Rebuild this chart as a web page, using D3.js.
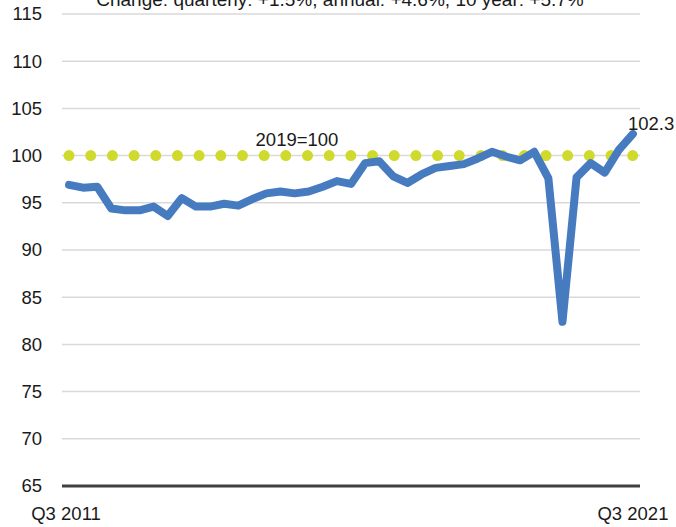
<!DOCTYPE html>
<html>
<head>
<meta charset="utf-8">
<script src="https://cdn.jsdelivr.net/npm/d3@7"></script>
<style>
  body { margin: 0; background: #fff; }
  text { font-family: "Liberation Sans", Arial, sans-serif; fill: #1a1a1a; }
</style>
</head>
<body>
<div id="chart"></div>
<script>
// Quarterly index, Q3 2011 .. Q3 2021 (2019=100)
const quarters = d3.range(41).map(i => {
  const q = (2 + i) % 4 + 1, yr = 2011 + Math.floor((2 + i) / 4);
  return `Q${q} ${yr}`;
});
const values = [
  96.9, 96.6, 96.7, 94.4, 94.2, 94.2, 94.6, 93.6, 95.5, 94.6,
  94.6, 94.9, 94.7, 95.4, 96.0, 96.2, 96.0, 96.2, 96.7, 97.3,
  97.0, 99.2, 99.4, 97.8, 97.1, 98.0, 98.7, 98.9, 99.1, 99.7,
  100.4, 99.9, 99.5, 100.4, 97.6, 82.4, 97.7, 99.2, 98.2, 100.6,
  102.3
];
const baseValue = 100;
const yTicks = [65, 70, 75, 80, 85, 90, 95, 100, 105, 110, 115];
const xLabels = ["Q3 2011", "Q3 2021"];
const subtitle = "Change: quarterly: +1.5%, annual: +4.6%, 10 year: +5.7%";

const W = 676, H = 527;
const FS = "18.5px";
const svg = d3.select("#chart").append("svg")
  .attr("width", W).attr("height", H);

const x = d3.scalePoint()
  .domain(quarters)
  .range([62, 640])
  .padding(0.5);

const y = d3.scaleLinear()
  .domain([65, 115])
  .range([486, 14]);

// gridlines
svg.append("g")
  .selectAll("line")
  .data(yTicks.filter(d => d > 65))
  .join("line")
    .attr("x1", 62).attr("x2", 640)
    .attr("y1", d => y(d)).attr("y2", d => y(d))
    .attr("stroke", "#d9d9d9")
    .attr("stroke-width", 1.5);

// y labels
const yAxis = svg.append("g")
  .attr("transform", "translate(42,0)")
  .call(d3.axisLeft(y).tickValues(yTicks).tickSize(0).tickPadding(0));
yAxis.select(".domain").remove();
yAxis.selectAll("text")
  .style("font-size", FS)
  .style("font-family", "Liberation Sans, Arial, sans-serif")
  .attr("fill", "#1a1a1a");

// bottom axis line
svg.append("line")
  .attr("x1", 62).attr("x2", 640)
  .attr("y1", y(65)).attr("y2", y(65))
  .attr("stroke", "#404040")
  .attr("stroke-width", 3);

// x labels
svg.append("g")
  .selectAll("text")
  .data(xLabels)
  .join("text")
    .attr("x", d => x(d) - (d === xLabels[0] ? 3 : 0))
    .attr("y", 520)
    .attr("text-anchor", "middle")
    .style("font-size", FS)
    .text(d => d);

// 2019=100 reference (round dots)
const refLine = d3.line()
  .x(d => x(d))
  .y(() => y(baseValue));
svg.append("path")
  .datum(quarters)
  .attr("d", refLine)
  .attr("fill", "none")
  .attr("stroke", "#d0da2c")
  .attr("stroke-width", 11)
  .attr("stroke-linecap", "round")
  .attr("stroke-dasharray", `0 ${(x(quarters[40]) - x(quarters[0])) / 26 - 0.01}`);

svg.append("text")
  .attr("x", 297).attr("y", 146)
  .attr("text-anchor", "middle")
  .style("font-size", FS)
  .text("2019=100");

// main series
const line = d3.line()
  .x((d, i) => x(quarters[i]))
  .y(d => y(d));
svg.append("path")
  .datum(values)
  .attr("d", line)
  .attr("fill", "none")
  .attr("stroke", "#477bc0")
  .attr("stroke-width", 8)
  .attr("stroke-linejoin", "round")
  .attr("stroke-linecap", "round");

// last value label
svg.append("text")
  .attr("x", x(quarters[40]) - 5)
  .attr("y", 130)
  .style("font-size", FS)
  .text(values[40].toFixed(1));

// subtitle (clipped at top, as in the source)
svg.append("text")
  .attr("x", 340).attr("y", 6)
  .attr("text-anchor", "middle")
  .style("font-size", "19px")
  .text(subtitle);
</script>
</body>
</html>
